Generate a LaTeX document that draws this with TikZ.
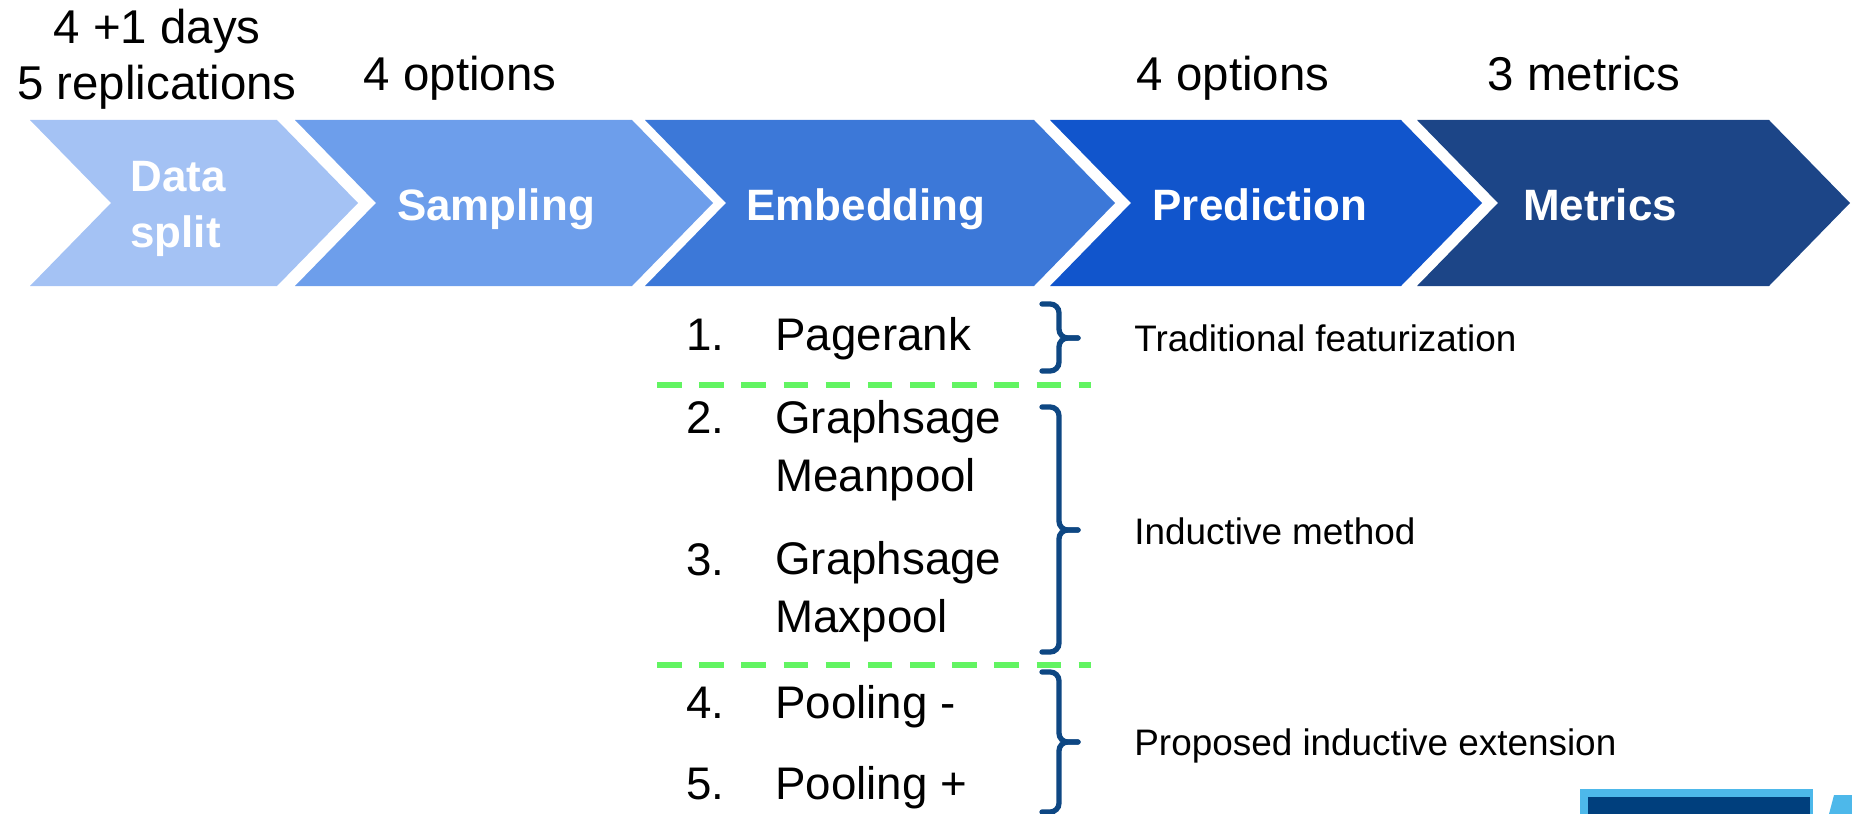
\documentclass[tikz,border=0pt]{standalone}
\usepackage{fontspec}
\setmainfont{Liberation Sans}
\usepackage{tikz}
\definecolor{splitblue}{HTML}{A4C2F4}
\definecolor{sampleblue}{HTML}{6D9EEB}
\definecolor{embedblue}{HTML}{3C78D8}
\definecolor{predictblue}{HTML}{1155CC}
\definecolor{metricblue}{HTML}{1C4587}
\definecolor{bracenavy}{HTML}{0E4783}
\definecolor{dividergreen}{HTML}{62F462}
\definecolor{logolight}{HTML}{4DB8EA}
\definecolor{logodark}{HTML}{003F7D}

\begin{document}
\begin{tikzpicture}[
  x=0.02cm, y=-0.02cm,
  steplabel/.style={font=\fontsize{25}{32}\selectfont\bfseries, text=white, inner sep=0pt, anchor=base},
  countlabel/.style={font=\fontsize{27}{32}\selectfont, inner sep=0pt, anchor=base},
  itemnum/.style={font=\fontsize{26}{33}\selectfont, inner sep=0pt, anchor=base west},
  itemtext/.style={font=\fontsize{26}{33}\selectfont, inner sep=0pt, anchor=base west, align=left},
  grouplabel/.style={font=\fontsize{21}{25}\selectfont, inner sep=0pt, anchor=base west},
  divider/.style={draw=dividergreen, line width=2.9pt, dash pattern=on 14pt off 10pt},
  groupbrace/.style={draw=bracenavy, line width=3pt, rounded corners=5pt, line cap=round}
]
  \useasboundingbox (0,0) rectangle (1852,814);

  % Pipeline chevrons
  \fill[splitblue]   (30,120)   -- (277,120)  -- (358,203)  -- (277,286)  -- (30,286)   -- (111,203)  -- cycle;
  \fill[sampleblue]  (295,120)  -- (632,120)  -- (713,203)  -- (632,286)  -- (295,286)  -- (376,203)  -- cycle;
  \fill[embedblue]   (645,120)  -- (1034,120) -- (1115,203) -- (1034,286) -- (645,286)  -- (726,203)  -- cycle;
  \fill[predictblue] (1050,120) -- (1401,120) -- (1482,203) -- (1401,286) -- (1050,286) -- (1131,203) -- cycle;
  \fill[metricblue]  (1417,120) -- (1769,120) -- (1850,203) -- (1769,286) -- (1417,286) -- (1498,203) -- cycle;

  % base of a two-line node sits on its last line
  \node[steplabel, align=left, anchor=base west] (split) at (130,248) {Data\\split};
  \node[steplabel] (sampling) at (496,221) {Sampling};
  \node[steplabel] (embedding) at (866,221) {Embedding};
  \node[steplabel] (prediction) at (1260,221) {Prediction};
  \node[steplabel] (metrics) at (1600,221) {Metrics};

  % Counts above the stages
  \node[countlabel, align=center] (days) at (157,100) {4 +1 days\\5 replications};
  \node[countlabel] (sampleopts) at (460,91) {4 options};
  \node[countlabel] (predictopts) at (1233,91) {4 options};
  \node[countlabel] (metriccount) at (1584,91) {3 metrics};

  % Embedding methods
  \node[itemnum] (n1) at (686,350) {1.};
  \node[itemtext] (pagerank) at (775,350) {Pagerank};
  \node[itemnum] (n2) at (686,433) {2.};
  \node[itemtext] (meanpool) at (775,491) {Graphsage\\Meanpool};
  \node[itemnum] (n3) at (686,575) {3.};
  \node[itemtext] (maxpool) at (775,632) {Graphsage\\Maxpool};
  \node[itemnum] (n4) at (686,718) {4.};
  \node[itemtext] (poolminus) at (775,718) {Pooling -};
  \node[itemnum] (n5) at (686,799) {5.};
  \node[itemtext] (poolplus) at (775,799) {Pooling +};

  \draw[divider] (657,385) -- (1091,385);
  \draw[divider] (657,665) -- (1091,665);

  % Groups
  \draw[groupbrace] (1042,304) -- (1059,304) -- (1059,338) -- (1078,338);
  \draw[groupbrace] (1078,338) -- (1059,338) -- (1059,371) -- (1042,371);
  \draw[groupbrace] (1042,407) -- (1059,407) -- (1059,530) -- (1078,530);
  \draw[groupbrace] (1078,530) -- (1059,530) -- (1059,652) -- (1042,652);
  \draw[groupbrace] (1042,672) -- (1059,672) -- (1059,742) -- (1078,742);
  \draw[groupbrace] (1078,742) -- (1059,742) -- (1059,812) -- (1042,812);
  \node[grouplabel] (traditional) at (1134,351) {Traditional featurization};
  \node[grouplabel] (inductive) at (1134,544) {Inductive method};
  \node[grouplabel] (proposed) at (1134,755) {Proposed inductive extension};

  % Logo corner
  \fill[logolight] (1580,789) rectangle (1813,814);
  \fill[logodark] (1588,797) rectangle (1810,814);
  \fill[logolight] (1829,814) -- (1834,795) -- (1852,795) -- (1852,814) -- cycle;
\end{tikzpicture}
\end{document}
